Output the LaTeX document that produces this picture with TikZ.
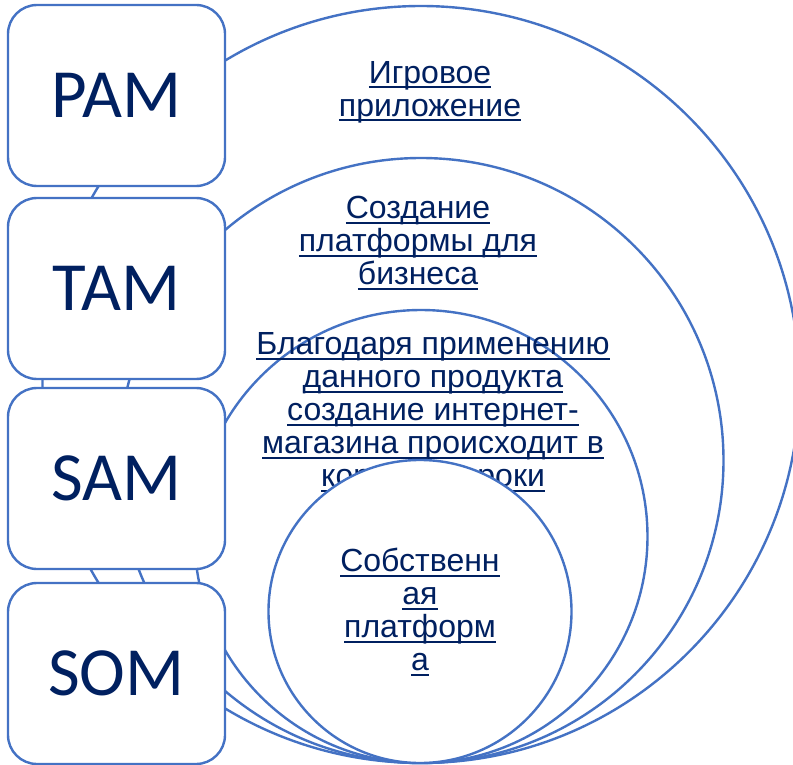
\documentclass[tikz,border=0pt]{standalone}
\usepackage{fontspec}
\setmainfont{Liberation Sans}
\newfontfamily\boxfont{Carlito}
\usetikzlibrary{positioning}
\definecolor{navy}{HTML}{002060}
\definecolor{ringblue}{HTML}{4472C4}
\newcommand\lnk[1]{\setbox0\hbox{#1}\rlap{\rule[-5pt]{\wd0}{2pt}}\box0}
\tikzset{ring/.style = {circle, draw=ringblue, line width=2.4pt, fill=white,
                        inner sep=0pt}}
\tikzset{box/.style = {rectangle, draw=ringblue, line width=2.4pt, fill=white,
                       rounded corners=29pt, minimum width=217pt,
                       minimum height=181pt, text=navy,
                       font=\boxfont\fontsize{69}{69}\selectfont}}
\tikzset{lbl/.style = {text=navy, align=center, inner sep=0pt,
                       font=\fontsize{32}{33}\selectfont}}

\begin{document}
\begin{tikzpicture}[x=1pt, y=-1pt]
    \useasboundingbox (0,0) rectangle (793,765);
    \node [ring, minimum size=757pt] (pamring) at (421,384.5) {};
    \node [lbl] (pamtext) at (430,92) {\lnk{Игровое}\\\lnk{приложение}};
    \node [ring, minimum size=605pt] (tamring) at (421,460.5) {};
    \node [lbl] (tamtext) at (418,243) {\lnk{Создание}\\\lnk{платформы для}\\\lnk{бизнеса}};
    \node [ring, minimum size=453pt] (samring) at (421,536.5) {};
    \node [lbl] (samtext) at (433,413) {\lnk{Благодаря применению}\\\lnk{данного продукта}\\
      \lnk{создание интернет-}\\\lnk{магазина происходит в}\\\lnk{короткие сроки}};
    \node [ring, minimum size=303pt] (somring) at (420,611.5) {};
    \node [lbl] (somtext) at (420,612) {\lnk{Собственн}\\\lnk{ая}\\\lnk{платформ}\\\lnk{а}};
    \node [box] (pam) at (116.5,95.5) {PAM};
    \node [box] (tam) at (116.5,288.5) {TAM};
    \node [box] (sam) at (116.5,478.5) {SAM};
    \node [box] (som) at (116.5,673.5) {SOM};
  \end{tikzpicture}
\end{document}
